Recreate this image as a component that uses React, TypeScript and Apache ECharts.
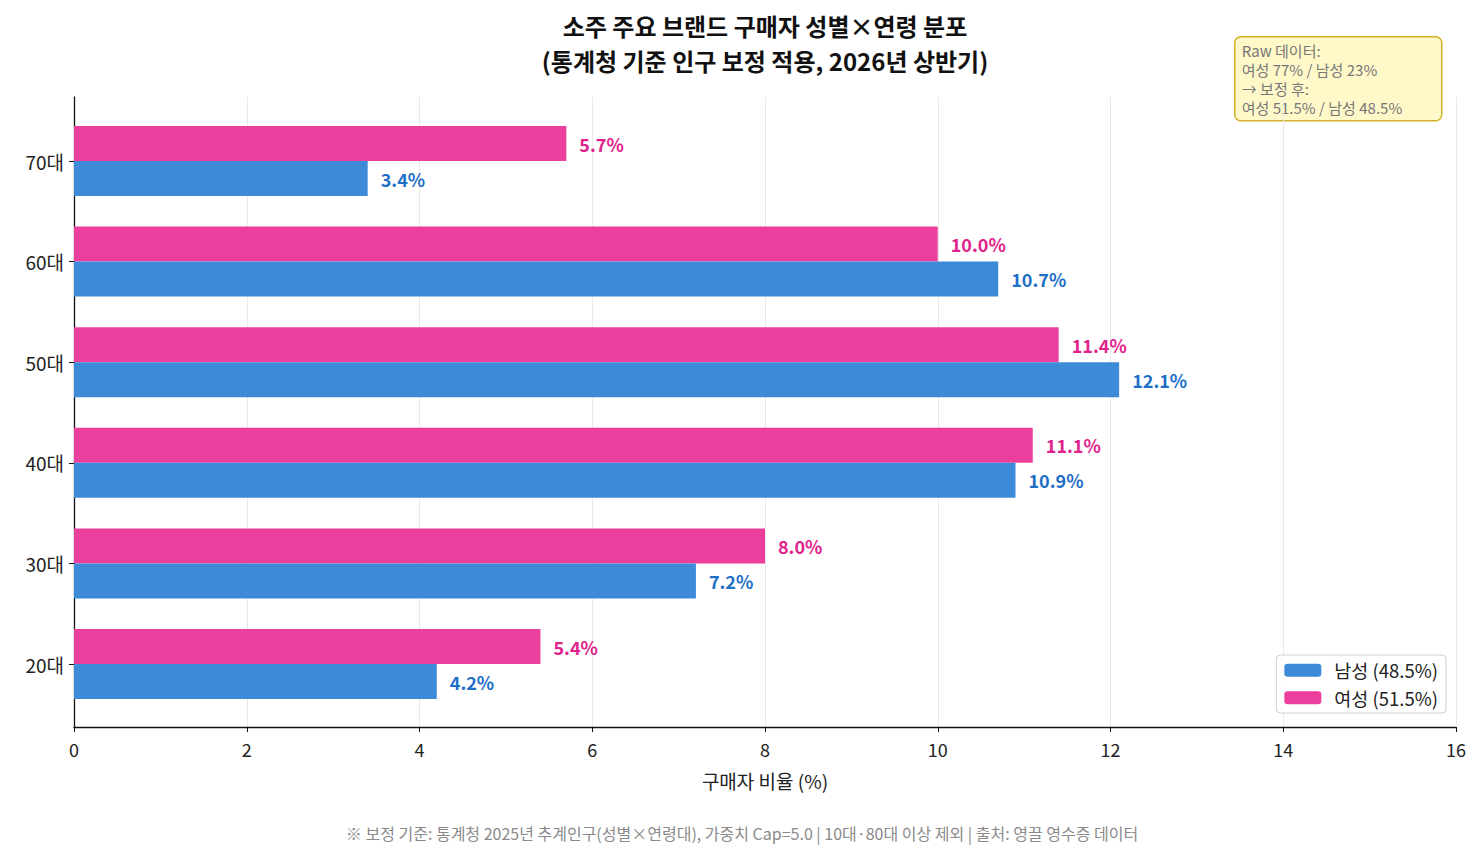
import React, { useEffect, useRef } from "react";
import * as echarts from "echarts";

const categories = ["20대", "30대", "40대", "50대", "60대", "70대"];
const maleValues = [4.2, 7.2, 10.9, 12.1, 10.7, 3.4];
const femaleValues = [5.4, 8.0, 11.1, 11.4, 10.0, 5.7];
const xTicks = [0, 2, 4, 6, 8, 10, 12, 14, 16];
const maleName = "남성 (48.5%)";
const femaleName = "여성 (51.5%)";
const titleLines = ["소주 주요 브랜드 구매자 성별×연령 분포", "(통계청 기준 인구 보정 적용, 2026년 상반기)"];
const noteLines = ["Raw 데이터:", "여성 77% / 남성 23%", "→ 보정 후:", "여성 51.5% / 남성 48.5%"];
const footerText = "※ 보정 기준: 통계청 2025년 추계인구(성별×연령대), 가중치 Cap=5.0 | 10대·80대 이상 제외 | 출처: 영끌 영수증 데이터";

const FONT = "'Noto Sans CJK KR', 'Noto Sans', sans-serif";

export default function App() {
  const ref = useRef<HTMLDivElement>(null);
  useEffect(() => {
    if (!ref.current) return;
    const chart = echarts.init(ref.current, undefined, { renderer: "svg" });
    const labelFmt = (p: any) => Number(p.value).toFixed(1) + "%";
    chart.setOption({
      animation: false,
      textStyle: { fontFamily: FONT },
      legend: {
        orient: "vertical",
        right: 37,
        top: 655,
        data: [maleName, femaleName],
        itemWidth: 37,
        itemHeight: 13,
        itemGap: 9,
        padding: [6, 8, 6, 8],
        borderColor: "#d0d0d0",
        borderWidth: 1,
        borderRadius: 4,
        backgroundColor: "rgba(255,255,255,0.85)",
        textStyle: { fontSize: 18.5, color: "#222", fontFamily: FONT, padding: [0, 0, 0, 8] },
      },
      grid: [
        { left: 74, right: 27, top: 97, bottom: 129 },
        { left: 74, right: 27, top: 110.7, bottom: 141.7 },
      ],
      xAxis: [
        {
          gridIndex: 0,
          type: "value",
          min: xTicks[0],
          max: xTicks[xTicks.length - 1],
          interval: 2,
          name: "구매자 비율 (%)",
          nameLocation: "middle",
          nameGap: 44,
          nameTextStyle: { fontSize: 19, color: "#222", fontFamily: FONT },
          axisLine: { show: true, lineStyle: { color: "#111", width: 1.3 } },
          axisTick: { show: true, length: 5, lineStyle: { color: "#111" } },
          axisLabel: { fontSize: 18, color: "#222", margin: 13, fontFamily: FONT },
          splitLine: { show: true, lineStyle: { color: "#e9e9e9", width: 1 } },
        },
        {
          gridIndex: 1,
          type: "value",
          min: xTicks[0],
          max: xTicks[xTicks.length - 1],
          show: false,
          splitLine: { show: false },
        },
      ],
      yAxis: [
        {
          gridIndex: 0,
          type: "value",
          min: 0,
          max: 1,
          axisLine: { show: true, lineStyle: { color: "#111", width: 1.3 } },
          axisTick: { show: false },
          axisLabel: { show: false },
          splitLine: { show: false },
        },
        {
          gridIndex: 1,
          type: "category",
          data: categories,
          axisLine: { show: false },
          axisTick: { show: true, alignWithLabel: true, length: 5, lineStyle: { color: "#111" } },
          axisLabel: { fontSize: 19, color: "#222", margin: 10, fontFamily: FONT },
          splitLine: { show: false },
        },
      ],
      series: [
        {
          name: femaleName,
          type: "bar",
          xAxisIndex: 1,
          yAxisIndex: 1,
          data: femaleValues,
          barWidth: 35,
          barGap: "0%",
          itemStyle: { color: "#EC3F9D" },
          label: {
            show: true,
            position: "right",
            distance: 13,
            formatter: labelFmt,
            fontSize: 18,
            fontWeight: "bold",
            color: "#E0228B",
            fontFamily: FONT,
          },
        },
        {
          name: maleName,
          type: "bar",
          xAxisIndex: 1,
          yAxisIndex: 1,
          data: maleValues,
          barWidth: 35,
          barGap: "0%",
          itemStyle: { color: "#3D8AD8" },
          label: {
            show: true,
            position: "right",
            distance: 13,
            formatter: labelFmt,
            fontSize: 18,
            fontWeight: "bold",
            color: "#1E6FC6",
            fontFamily: FONT,
          },
        },
      ],
      graphic: [
        ...titleLines.map((line, i) => ({
          type: "text",
          x: 765,
          y: 25 + i * 35,
          style: {
            text: line,
            fontSize: 24,
            fontWeight: "bold",
            fill: "#111",
            fontFamily: FONT,
            textAlign: "center",
            textVerticalAlign: "middle",
          },
        })),
        {
          type: "group",
          left: 1234,
          top: 36,
          children: [
            {
              type: "rect",
              shape: { x: 0, y: 0, width: 207, height: 84, r: 6 },
              style: { fill: "#FFF9C9", stroke: "#D2B02C", lineWidth: 1.5 },
            },
            ...noteLines.map((line, i) => ({
              type: "text",
              x: 7,
              y: 14 + i * 19,
              style: {
                text: line,
                fontSize: 15,
                fill: "#777",
                fontFamily: FONT,
                textVerticalAlign: "middle",
              },
            })),
          ],
        },
        {
          type: "text",
          x: 742,
          y: 833,
          style: {
            text: footerText,
            fontSize: 16,
            fill: "#8a8a8a",
            textAlign: "center",
            textVerticalAlign: "middle",
            fontFamily: FONT,
          },
        },
      ],
    });
    return () => chart.dispose();
  }, []);
  return (
    <div
      ref={ref}
      style={{ position: "fixed", left: 0, top: 0, width: 1483, height: 856, background: "#fff" }}
    />
  );
}
